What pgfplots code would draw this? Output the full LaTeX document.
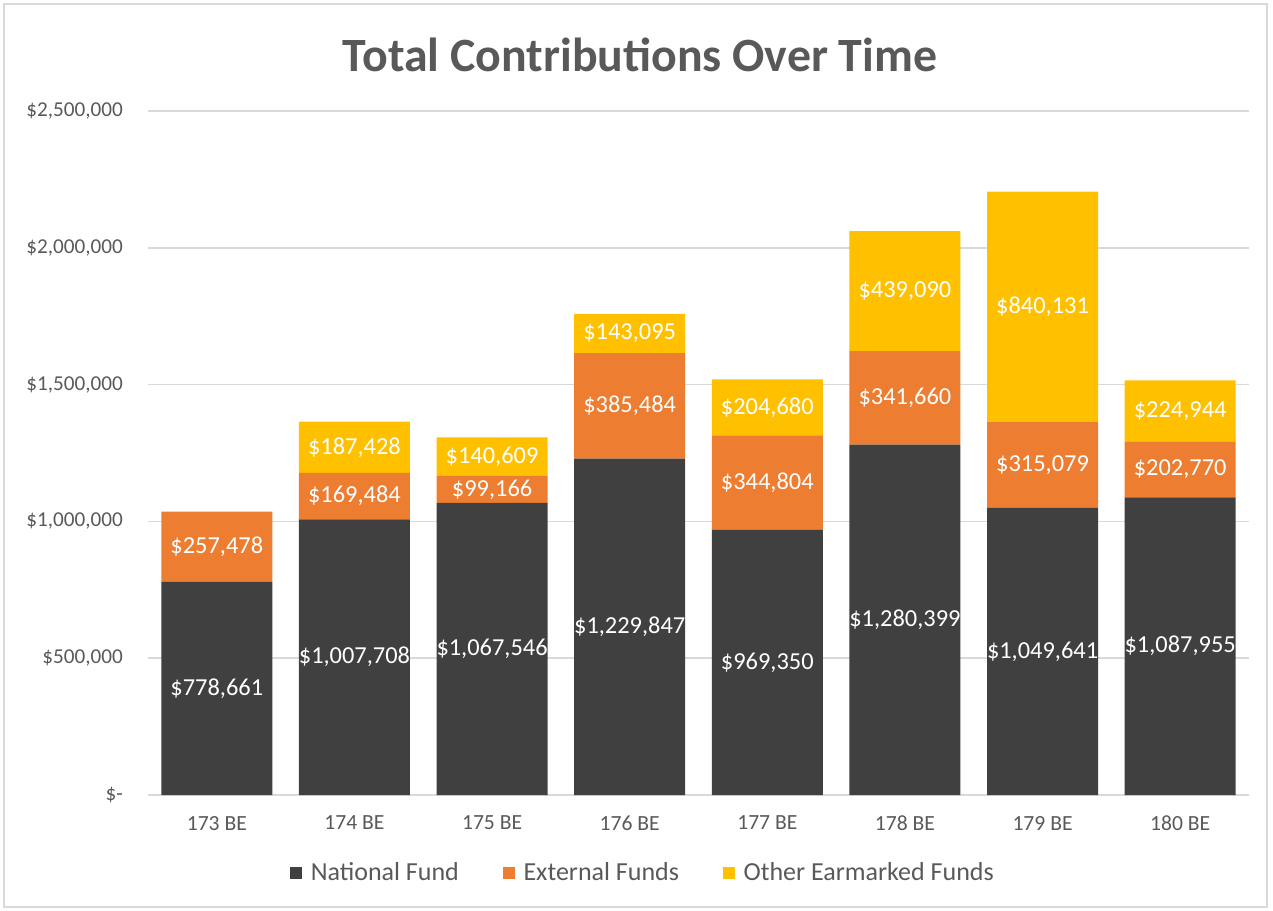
\documentclass[border=0pt]{standalone}
\usepackage{pgfplots}
\pgfplotsset{compat=1.18}
\usepackage{pgfplotstable}
\usepackage{fontspec}
\setmainfont{Carlito}
\definecolor{natgray}{HTML}{404040}
\definecolor{extorange}{HTML}{ED7D31}
\definecolor{othgold}{HTML}{FFC000}
\definecolor{txtgray}{HTML}{595959}
\definecolor{gridgray}{HTML}{D9D9D9}

\pgfplotstableread{
x national external other
0 778661 257478 0
1 1007708 169484 187428
2 1067546 99166 140609
3 1229847 385484 143095
4 969350 344804 204680
5 1280399 341660 439090
6 1049641 315079 840131
7 1087955 202770 224944
}\datatable

\pgfplotsset{
  chartgeom/.style={
    at={(74pt,57.5pt)}, anchor=south west,
    scale only axis, width=550.5pt, height=342pt,
    xmin=-0.5, xmax=7.5, ymin=0, ymax=2500000,
  },
  barlabel/.style={
    draw=none, mark=none, forget plot,
    point meta=explicit symbolic,
    nodes near coords={\$\pgfmathprintnumber[fixed,precision=0,1000 sep={,},assume math mode=true]{\pgfplotspointmeta}},
    nodes near coords align={center},
    every node near coord/.append style={text=white, font=\fontsize{12.2}{14}\selectfont, anchor=center, inner sep=0pt},
  },
}

\begin{document}
\begin{tikzpicture}
\path[use as bounding box] (0,0) rectangle (636.5pt,455pt);
\draw[gridgray, line width=0.6pt] (2pt,1.5pt) rectangle (633.5pt,453pt);
\node[font=\fontsize{23.9}{28}\selectfont\bfseries, text=txtgray] at (320pt,427.5pt) {Total Contributions Over Time};

\begin{axis}[chartgeom,
  ybar stacked, bar width=55.5pt,
  scaled y ticks=false,
  ymajorgrids, grid style={gridgray, line width=0.75pt},
  axis line style={draw=none},
  major tick length=0pt,
  ytick={0,500000,1000000,1500000,2000000,2500000},
  yticklabels={{\$-},{\$500,000},{\$1,000,000},{\$1,500,000},{\$2,000,000},{\$2,500,000}},
  yticklabel style={font=\fontsize{10.6}{12}\selectfont, text=txtgray, xshift=-9pt},
  xtick={0,1,2,3,4,5,6,7},
  xticklabels={173 BE,174 BE,175 BE,176 BE,177 BE,178 BE,179 BE,180 BE},
  xticklabel style={font=\fontsize{10.8}{12}\selectfont, text=txtgray, yshift=-7pt},
  legend style={at={(0.4505,-0.114)}, anchor=center, draw=none, fill=none,
    legend columns=-1, font=\fontsize{13}{15}\selectfont, text=txtgray,
    /tikz/every odd column/.append style={column sep=2.5pt},
    /tikz/every even column/.append style={column sep=20pt}},
  legend image code/.code={\fill[#1] (0pt,-2.9pt) rectangle (5.8pt,2.9pt);},
]
\addplot[fill=natgray, draw=none] table[x=x, y=national] {\datatable};
\addlegendentry{National Fund}
\addplot[fill=extorange, draw=none] table[x=x, y=external] {\datatable};
\addlegendentry{External Funds}
\addplot[fill=othgold, draw=none] table[x=x, y=other] {\datatable};
\addlegendentry{Other Earmarked Funds}
\end{axis}

\begin{axis}[chartgeom, hide axis]
\addplot[barlabel] table[x=x, y expr=\thisrow{national}/2, meta=national] {\datatable};
\addplot[barlabel] table[x=x, y expr=\thisrow{national}+\thisrow{external}/2, meta=external] {\datatable};
\addplot[barlabel, skip coords between index={0}{1}] table[x=x, y expr=\thisrow{national}+\thisrow{external}+\thisrow{other}/2, meta=other] {\datatable};
\end{axis}
\end{tikzpicture}
\end{document}
